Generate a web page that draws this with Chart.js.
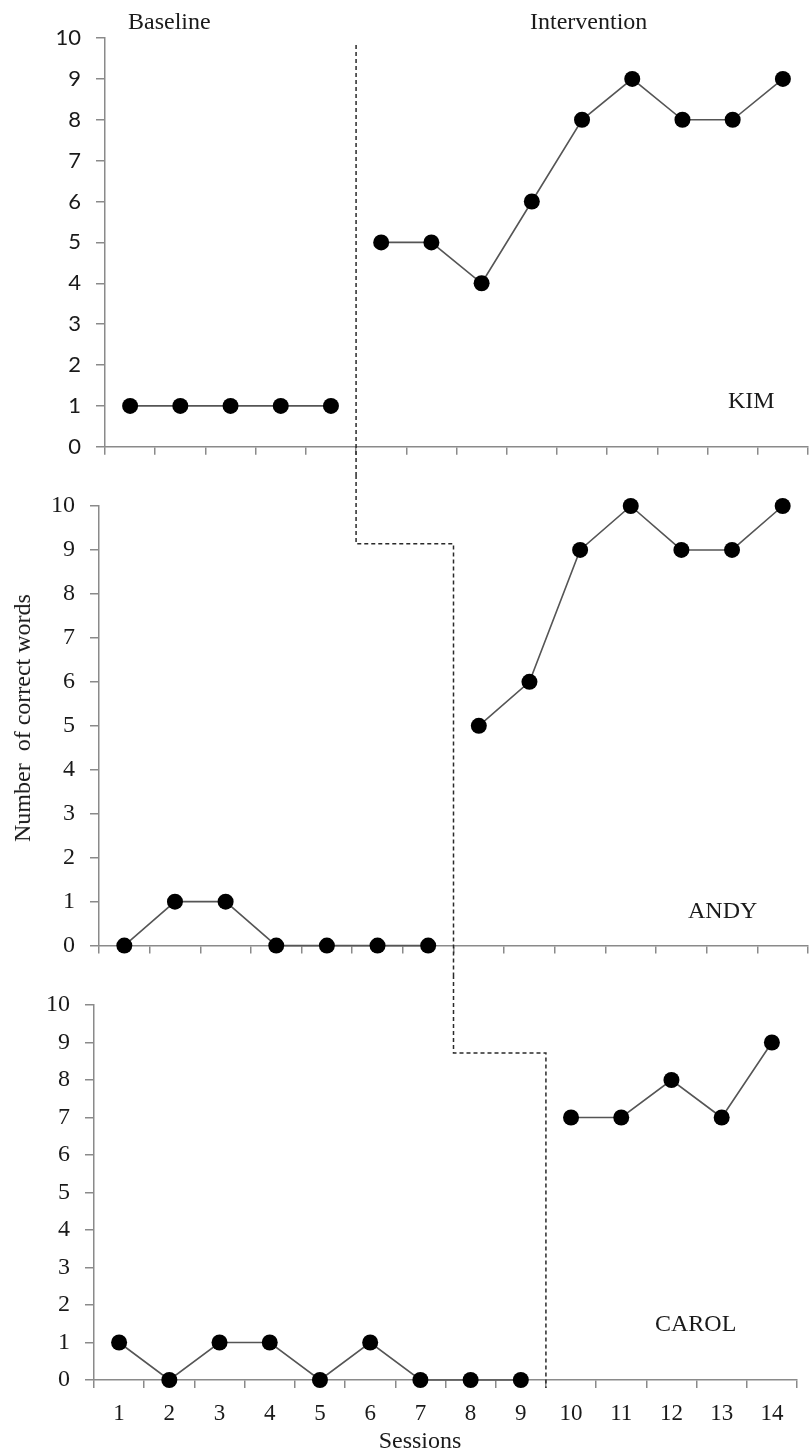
<!DOCTYPE html>
<html>
<head>
<meta charset="utf-8">
<script src="https://cdn.jsdelivr.net/npm/chart.js@4.4.1/dist/chart.umd.min.js"></script>
<style>
  body { margin: 0; background: #fff; }
  #wrap { position: relative; width: 810px; height: 1453px; overflow: hidden; }
  canvas { position: absolute; left: 0; }
  .lbl {
    position: absolute;
    font-family: "Liberation Serif", "Times New Roman", serif;
    font-size: 24px;
    line-height: 1;
    color: #1a1a1a;
    white-space: nowrap;
  }
  #ytitle { left: 22px; top: 718px; transform: translate(-50%, -50%) rotate(-90deg); }
  #xtitle { left: 420px; top: 1428px; transform: translateX(-50%); }
</style>
</head>
<body>
<div id="wrap">
  <canvas id="kim" width="810" height="475" style="top:0px;width:810px;height:475px"></canvas>
  <canvas id="andy" width="810" height="500" style="top:475px;width:810px;height:500px"></canvas>
  <canvas id="carol" width="810" height="478" style="top:975px;width:810px;height:478px"></canvas>

  <div class="lbl" style="left:128px;top:9px">Baseline</div>
  <div class="lbl" style="left:530px;top:9px">Intervention</div>
  <div class="lbl" style="left:728px;top:388px">KIM</div>
  <div class="lbl" style="left:688px;top:898px">ANDY</div>
  <div class="lbl" style="left:655px;top:1311px">CAROL</div>
  <div class="lbl" id="ytitle">Number&nbsp; of correct words</div>
  <div class="lbl" id="xtitle">Sessions</div>
</div>

<script>
// data
const sessions = ['1', '2', '3', '4', '5', '6', '7', '8', '9', '10', '11', '12', '13', '14'];
const yTicks = [0, 1, 2, 3, 4, 5, 6, 7, 8, 9, 10];

const kimBaseline = [1, 1, 1, 1, 1];
const kimIntervention = [5, 5, 4, 6, 8, 9, 8, 8, 9];

const andyBaseline = [0, 1, 1, 0, 0, 0, 0];
const andyIntervention = [5, 6, 9, 10, 9, 9, 10];

const carolBaseline = [1, 0, 1, 1, 0, 1, 0, 0, 0];
const carolIntervention = [7, 7, 8, 7, 9];

const AXIS = '#8a8a8a';
const serif = '"Liberation Serif", "Times New Roman", serif';

function points(values, start) {
  return values.map((v, i) => ({ x: sessions[start + i], y: v }));
}

function series(data) {
  return {
    data,
    borderColor: '#555',
    borderWidth: 1.6,
    pointRadius: 8,
    pointBackgroundColor: '#000',
    pointBorderColor: '#000',
    pointBorderWidth: 0,
    tension: 0,
    clip: false
  };
}

// dashed phase change line; the upper part comes from the panel above
function phaseLine(getUpperX, level, boundary, lastPanel) {
  return {
    id: 'phase',
    afterDatasetsDraw(chart) {
      const { ctx, scales: { x, y } } = chart;
      const bx = x.getPixelForValue(boundary);
      ctx.save();
      ctx.strokeStyle = '#2a2a2a';
      ctx.lineWidth = 1.5;
      ctx.setLineDash([4, 3]);
      ctx.beginPath();
      if (getUpperX) {
        const ux = getUpperX();
        ctx.moveTo(ux, 0);
        ctx.lineTo(ux, y.getPixelForValue(level));
        ctx.lineTo(bx, y.getPixelForValue(level));
      } else {
        ctx.moveTo(bx, y.getPixelForValue(level));
      }
      ctx.lineTo(bx, lastPanel ? y.getPixelForValue(0) + 8 : chart.height);
      ctx.stroke();
      ctx.restore();
    }
  };
}

function panel(id, baseline, intervention, box, yFont, showX, plugin) {
  const canvas = document.getElementById(id);
  return new Chart(canvas, {
    type: 'line',
    data: {
      datasets: [
        series(points(baseline, 0)),
        series(points(intervention, baseline.length))
      ]
    },
    options: {
      responsive: false,
      animation: false,
      events: [],
      layout: {
        autoPadding: false,
        padding: { top: box.top, right: 810 - box.right, left: 0, bottom: 0 }
      },
      plugins: { legend: { display: false }, tooltip: { enabled: false } },
      scales: {
        x: {
          type: 'category',
          labels: sessions,
          offset: true,
          grid: { offset: true, drawOnChartArea: false, tickLength: 8, color: AXIS, lineWidth: 1.5 },
          border: { color: AXIS, width: 1.5 },
          ticks: {
            display: showX,
            autoSkip: false,
            maxRotation: 0,
            padding: 12,
            color: '#1a1a1a',
            font: { family: serif, size: 23 }
          },
          afterFit(s) { s.height = canvas.height - box.bottom; }
        },
        y: {
          min: 0,
          max: 10,
          afterBuildTicks(s) { s.ticks = yTicks.map(v => ({ value: v })); },
          grid: { drawOnChartArea: false, tickLength: 9, color: AXIS, lineWidth: 1.5 },
          border: { color: AXIS, width: 1.5 },
          ticks: { padding: 15, color: '#1a1a1a', font: yFont },
          afterFit(s) { s.width = box.left; }
        }
      }
    },
    plugins: [plugin]
  });
}

const kimChart = panel('kim', kimBaseline, kimIntervention,
  { left: 105, right: 808, top: 38, bottom: 461 },
  { family: 'Lato, "Open Sans", sans-serif', size: 22 }, false,
  phaseLine(null, 9.83, kimBaseline.length - 0.5, false));

const andyChart = panel('andy', andyBaseline, andyIntervention,
  { left: 99, right: 808, top: 31, bottom: 486 },
  { family: serif, size: 24 }, false,
  phaseLine(() => kimChart.scales.x.getPixelForValue(kimBaseline.length - 0.5),
    9.14, andyBaseline.length - 0.5, false));

const carolChart = panel('carol', carolBaseline, carolIntervention,
  { left: 94, right: 797, top: 30, bottom: 405 },
  { family: serif, size: 24 }, true,
  phaseLine(() => andyChart.scales.x.getPixelForValue(andyBaseline.length - 0.5),
    8.72, carolBaseline.length - 0.5, true));
</script>
</body>
</html>
